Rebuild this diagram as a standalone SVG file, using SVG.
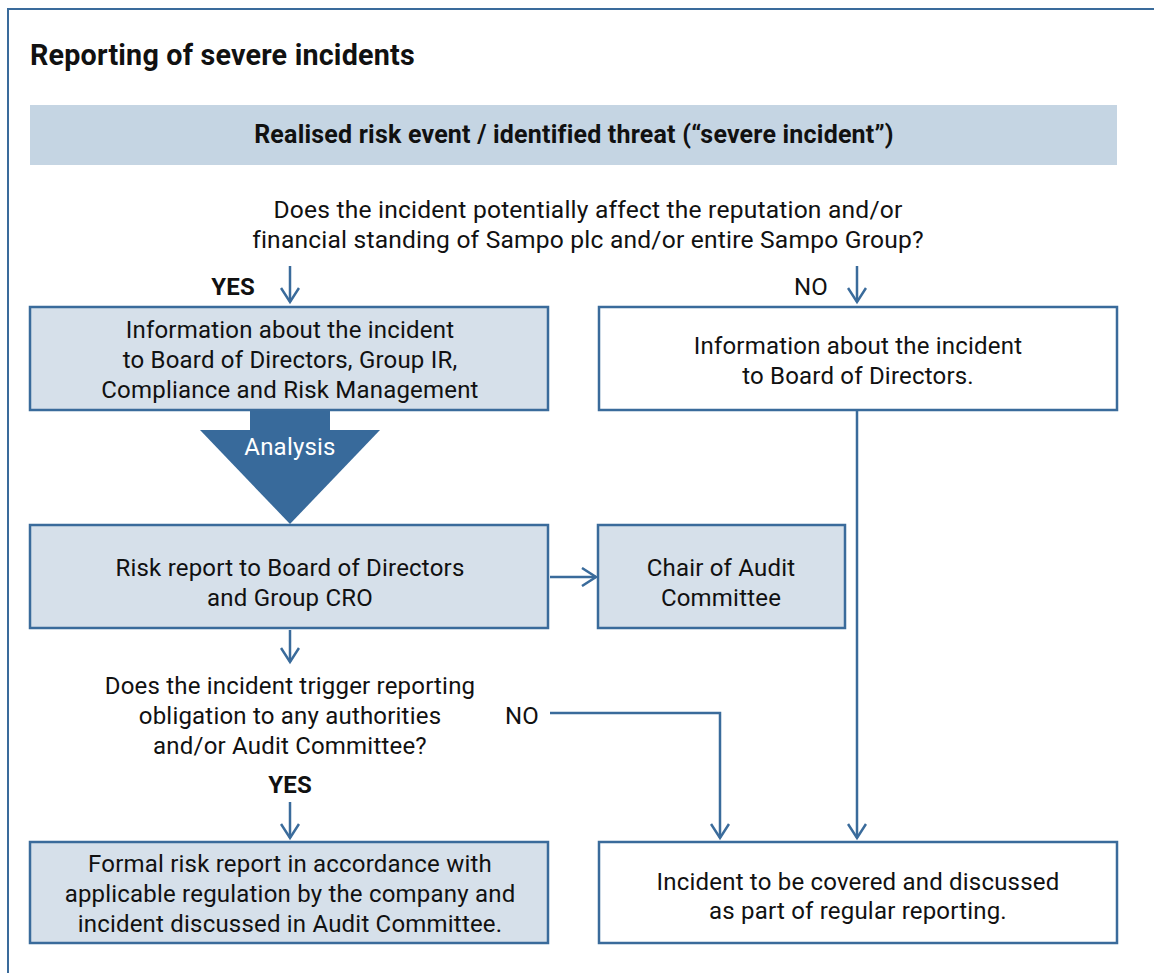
<svg xmlns="http://www.w3.org/2000/svg" width="1154" height="973" viewBox="0 0 1154 973">
<defs>
<style>
text{font-family:Roboto,"Liberation Sans",sans-serif;font-size:24px;fill:#111;text-anchor:middle;letter-spacing:0.2px}
.b{font-weight:bold}
.box{stroke:#3a6b9b;stroke-width:2.5}
.blue{fill:#d6e0ea}
.white{fill:#fff}
.ln{fill:none;stroke:#3a6b9b;stroke-width:2.5}
</style>
<marker id="ah" viewBox="0 0 20 20" refX="17" refY="10" markerWidth="20" markerHeight="20" markerUnits="userSpaceOnUse" orient="auto">
<path d="M3,1 L17,10 L3,19" fill="none" stroke="#3a6b9b" stroke-width="2.5"/>
</marker>
</defs>
<rect width="1154" height="973" fill="#fff"/>
<path d="M8,973 V9 H1154" fill="none" stroke="#3a6b9b" stroke-width="2"/>
<text x="30" y="65" class="b" style="font-size:28.7px;text-anchor:start">Reporting of severe incidents</text>
<g id="header">
<rect x="30" y="105" width="1087" height="60" fill="#c5d5e3"/>
<text x="574" y="143" class="b" style="font-size:25px">Realised risk event / identified threat (“severe incident”)</text>
</g>
<g id="q1">
<text x="588" y="218" style="font-size:24.6px">Does the incident potentially affect the reputation and/or</text>
<text x="588" y="248" style="font-size:24.6px">financial standing of Sampo plc and/or entire Sampo Group?</text>
</g>
<g id="labels">
<text x="233" y="295" class="b">YES</text>
<text x="811" y="295">NO</text>
<text x="522" y="724">NO</text>
<text x="290" y="793" class="b">YES</text>
</g>
<g id="box1">
<rect x="30" y="307" width="518" height="103" class="box blue"/>
<text x="290" y="338">Information about the incident</text>
<text x="290" y="368">to Board of Directors, Group IR,</text>
<text x="290" y="398">Compliance and Risk Management</text>
</g>
<g id="box2">
<rect x="599" y="307" width="518" height="103" class="box white"/>
<text x="858" y="354">Information about the incident</text>
<text x="858" y="384">to Board of Directors.</text>
</g>
<g id="analysis">
<rect x="250" y="411" width="80" height="20" fill="#386a9b"/>
<polygon points="200,430 380,430 290,524" fill="#386a9b"/>
<text x="290" y="455" style="fill:#fff">Analysis</text>
</g>
<g id="box3">
<rect x="30" y="525" width="518" height="103" class="box blue"/>
<text x="290" y="576">Risk report to Board of Directors</text>
<text x="290" y="606">and Group CRO</text>
</g>
<g id="box4">
<rect x="598" y="525" width="247" height="103" class="box blue"/>
<text x="721" y="576">Chair of Audit</text>
<text x="721" y="606">Committee</text>
</g>
<g id="q2">
<text x="290" y="694">Does the incident trigger reporting</text>
<text x="290" y="724">obligation to any authorities</text>
<text x="290" y="754">and/or Audit Committee?</text>
</g>
<g id="box5">
<rect x="30" y="842" width="518" height="101" class="box blue"/>
<text x="290" y="872">Formal risk report in accordance with</text>
<text x="290" y="902">applicable regulation by the company and</text>
<text x="290" y="932">incident discussed in Audit Committee.</text>
</g>
<g id="box6">
<rect x="599" y="842" width="518" height="101" class="box white"/>
<text x="858" y="890">Incident to be covered and discussed</text>
<text x="858" y="919">as part of regular reporting.</text>
</g>
<g id="connectors">
<path d="M290,266 V302" class="ln" marker-end="url(#ah)"/>
<path d="M857,266 V302" class="ln" marker-end="url(#ah)"/>
<path d="M550,577 H596" class="ln" marker-end="url(#ah)"/>
<path d="M290,630 V662" class="ln" marker-end="url(#ah)"/>
<path d="M550,713 H720 V838" class="ln" marker-end="url(#ah)"/>
<path d="M857,411 V838" class="ln" marker-end="url(#ah)"/>
<path d="M290,802 V838" class="ln" marker-end="url(#ah)"/>
</g>
</svg>
